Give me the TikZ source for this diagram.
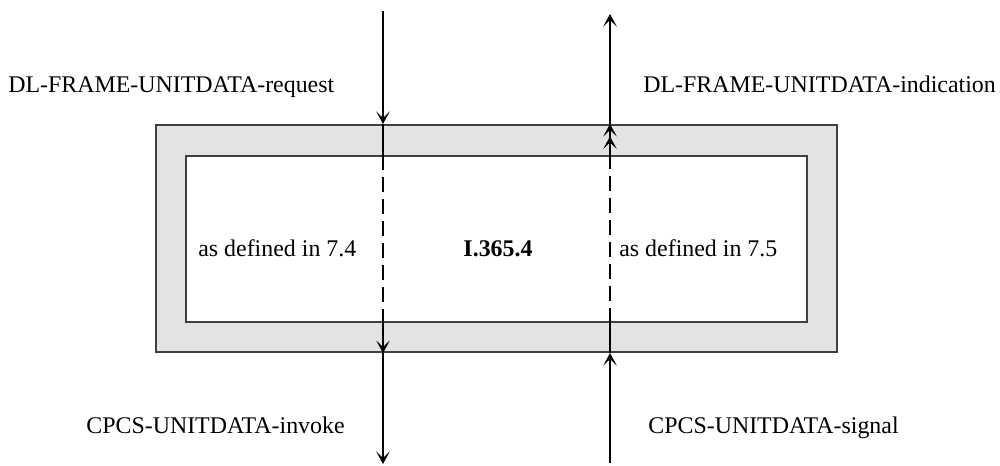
\documentclass[tikz,border=0pt]{standalone}
\usepackage{fontspec}
\setmainfont{Liberation Serif}
\usetikzlibrary{arrows.meta,calc}
\definecolor{bandgray}{RGB}{227,227,227}
\definecolor{edgegray}{RGB}{64,64,64}
\tikzset{
    outerbox/.style={
        draw=edgegray, fill=bandgray, line width=1.2pt,
        rectangle, minimum width=681*0.02cm, minimum height=227*0.02cm,
        inner sep=0pt
    },
    innerbox/.style={
        draw=edgegray, fill=white, line width=1.2pt,
        rectangle, minimum width=621*0.02cm, minimum height=166*0.02cm,
        inner sep=0pt
    },
    prim/.style={font=\fontsize{13.6}{16}\selectfont, inner sep=0pt},
    sig/.style={-{Stealth[length=2.5mm,width=2.7mm,inset=1.3mm]}, line width=0.7pt},
    sigtwo/.style={-{Stealth[length=2.5mm,width=2.7mm,inset=1.3mm]Stealth[length=2.5mm,width=2.7mm,inset=1.3mm]}, line width=0.7pt},
    inside/.style={line width=0.7pt, dash pattern=on 0.3cm off 0.14cm}
}
\begin{document}
\begin{tikzpicture}[x=0.02cm,y=-0.02cm]
\useasboundingbox (0,0) rectangle (1000,466);

\node[outerbox] (outer) at (496.5,238.5) {};
\node[innerbox] (inner) at (496.5,239) {};

% primitives on the upper side
\coordinate (reqtop) at (383,11);
\coordinate (indtop) at (610,14);
\node[prim, anchor=base west] (req) at (8,92) {DL-FRAME-UNITDATA-request};
\node[prim, anchor=base west] (ind) at (643,92) {DL-FRAME-UNITDATA-indication};

% primitives on the lower side
\coordinate (invbot) at (383,464);
\coordinate (sigbot) at (610,463);
\node[prim, anchor=base east] (inv) at (345,433) {CPCS-UNITDATA-invoke};
\node[prim, anchor=base west] (sgn) at (648,433) {CPCS-UNITDATA-signal};

% labels in the box
\node[prim, anchor=base west] (def74) at (198,256) {as defined in 7.4};
\node[prim, anchor=base] (ent) at (498,256) {\textbf{I.365.4}};
\node[prim, anchor=base west] (def75) at (619,256) {as defined in 7.5};

% request -> invoke
\draw[sig] (reqtop) -- (reqtop |- outer.north);
\draw[line width=0.7pt] (reqtop |- outer.north) -- (reqtop |- inner.north);
\draw[inside] (reqtop |- inner.north) -- (reqtop |- inner.south);
\draw[sig] (reqtop |- inner.south) -- (reqtop |- outer.south);
\draw[sig] (reqtop |- outer.south) -- (invbot);

% signal -> indication
\draw[sig] (sigbot) -- (sigbot |- outer.south);
\draw[line width=0.7pt] (sigbot |- outer.south) -- (sigbot |- inner.south);
\draw[inside] (sigbot |- inner.south) -- (sigbot |- inner.north);
\draw[sigtwo] (sigbot |- inner.north) -- (sigbot |- outer.north);
\draw[sig] (sigbot |- outer.north) -- (indtop);
\end{tikzpicture}
\end{document}
